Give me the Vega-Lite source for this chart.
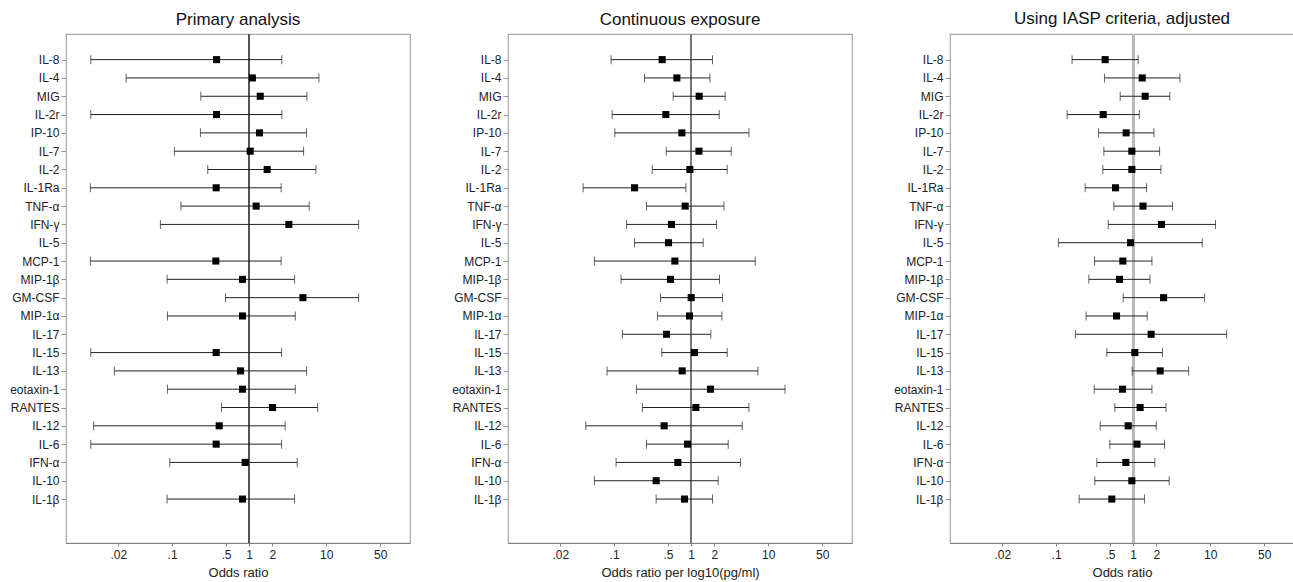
{
  "$schema": "https://vega.github.io/schema/vega-lite/v6.json",
  "padding": {"left": 9, "top": 9, "right": 0, "bottom": 0},
  "background": "white",
  "bounds": "flush",
  "spacing": 98,
  "config": {
    "font": "Liberation Sans",
    "view": {"stroke": "#a6a6a6", "strokeWidth": 1.2},
    "title": {"fontSize": 17, "fontWeight": "normal", "color": "#111", "offset": 5},
    "axis": {"labelFont": "Liberation Sans", "titleFont": "Liberation Sans", "labelColor": "#222", "titleColor": "#222", "grid": false}
  },
  "datasets": {
    "primary": [
      {"cytokine": "IL-8", "lo": 0.0088, "or": 0.377, "hi": 2.65},
      {"cytokine": "IL-4", "lo": 0.0253, "or": 1.10, "hi": 8.03},
      {"cytokine": "MIG", "lo": 0.236, "or": 1.39, "hi": 5.61},
      {"cytokine": "IL-2r", "lo": 0.0088, "or": 0.377, "hi": 2.65},
      {"cytokine": "IP-10", "lo": 0.233, "or": 1.36, "hi": 5.55},
      {"cytokine": "IL-7", "lo": 0.107, "or": 1.03, "hi": 5.08},
      {"cytokine": "IL-2", "lo": 0.290, "or": 1.71, "hi": 7.34},
      {"cytokine": "IL-1Ra", "lo": 0.0087, "or": 0.373, "hi": 2.60},
      {"cytokine": "TNF-α", "lo": 0.130, "or": 1.23, "hi": 6.01},
      {"cytokine": "IFN-γ", "lo": 0.0705, "or": 3.27, "hi": 26.3},
      {"cytokine": "MCP-1", "lo": 0.0087, "or": 0.369, "hi": 2.60},
      {"cytokine": "MIP-1β", "lo": 0.0861, "or": 0.819, "hi": 3.88},
      {"cytokine": "GM-CSF", "lo": 0.493, "or": 4.98, "hi": 26.3},
      {"cytokine": "MIP-1α", "lo": 0.087, "or": 0.819, "hi": 3.96},
      {"cytokine": "IL-15", "lo": 0.0088, "or": 0.373, "hi": 2.63},
      {"cytokine": "IL-13", "lo": 0.0178, "or": 0.772, "hi": 5.55},
      {"cytokine": "eotaxin-1", "lo": 0.087, "or": 0.819, "hi": 3.96},
      {"cytokine": "RANTES", "lo": 0.437, "or": 2.01, "hi": 7.72},
      {"cytokine": "IL-12", "lo": 0.0096, "or": 0.408, "hi": 2.93},
      {"cytokine": "IL-6", "lo": 0.0088, "or": 0.373, "hi": 2.63},
      {"cytokine": "IFN-α", "lo": 0.0933, "or": 0.887, "hi": 4.20},
      {"cytokine": "IL-1β", "lo": 0.0861, "or": 0.819, "hi": 3.88}
    ],
    "continuous": [
      {"cytokine": "IL-8", "lo": 0.0914, "or": 0.420, "hi": 1.89},
      {"cytokine": "IL-4", "lo": 0.248, "or": 0.652, "hi": 1.75},
      {"cytokine": "MIG", "lo": 0.584, "or": 1.27, "hi": 2.76},
      {"cytokine": "IL-2r", "lo": 0.0942, "or": 0.469, "hi": 2.31},
      {"cytokine": "IP-10", "lo": 0.102, "or": 0.757, "hi": 5.61},
      {"cytokine": "IL-7", "lo": 0.474, "or": 1.26, "hi": 3.31},
      {"cytokine": "IL-2", "lo": 0.312, "or": 0.961, "hi": 2.93},
      {"cytokine": "IL-1Ra", "lo": 0.0396, "or": 0.184, "hi": 0.853},
      {"cytokine": "TNF-α", "lo": 0.263, "or": 0.836, "hi": 2.66},
      {"cytokine": "IFN-γ", "lo": 0.145, "or": 0.555, "hi": 2.13},
      {"cytokine": "IL-5", "lo": 0.184, "or": 0.508, "hi": 1.43},
      {"cytokine": "MCP-1", "lo": 0.0555, "or": 0.614, "hi": 6.78},
      {"cytokine": "MIP-1β", "lo": 0.123, "or": 0.539, "hi": 2.33},
      {"cytokine": "GM-CSF", "lo": 0.400, "or": 1.0, "hi": 2.55},
      {"cytokine": "MIP-1α", "lo": 0.365, "or": 0.951, "hi": 2.50},
      {"cytokine": "IL-17", "lo": 0.128, "or": 0.478, "hi": 1.80},
      {"cytokine": "IL-15", "lo": 0.416, "or": 1.10, "hi": 2.93},
      {"cytokine": "IL-13", "lo": 0.0811, "or": 0.764, "hi": 7.34},
      {"cytokine": "eotaxin-1", "lo": 0.195, "or": 1.78, "hi": 16.5},
      {"cytokine": "RANTES", "lo": 0.233, "or": 1.15, "hi": 5.61},
      {"cytokine": "IL-12", "lo": 0.0429, "or": 0.446, "hi": 4.60},
      {"cytokine": "IL-6", "lo": 0.263, "or": 0.896, "hi": 3.02},
      {"cytokine": "IFN-α", "lo": 0.106, "or": 0.671, "hi": 4.37},
      {"cytokine": "IL-10", "lo": 0.0555, "or": 0.351, "hi": 2.24},
      {"cytokine": "IL-1β", "lo": 0.351, "or": 0.819, "hi": 1.89}
    ],
    "iasp": [
      {"cytokine": "IL-8", "lo": 0.161, "or": 0.433, "hi": 1.16},
      {"cytokine": "IL-4", "lo": 0.424, "or": 1.31, "hi": 4.04},
      {"cytokine": "MIG", "lo": 0.678, "or": 1.43, "hi": 2.99},
      {"cytokine": "IL-2r", "lo": 0.139, "or": 0.408, "hi": 1.20},
      {"cytokine": "IP-10", "lo": 0.355, "or": 0.811, "hi": 1.86},
      {"cytokine": "IL-7", "lo": 0.416, "or": 0.961, "hi": 2.20},
      {"cytokine": "IL-2", "lo": 0.404, "or": 0.961, "hi": 2.29},
      {"cytokine": "IL-1Ra", "lo": 0.238, "or": 0.590, "hi": 1.49},
      {"cytokine": "TNF-α", "lo": 0.561, "or": 1.34, "hi": 3.24},
      {"cytokine": "IFN-γ", "lo": 0.474, "or": 2.33, "hi": 11.7},
      {"cytokine": "IL-5", "lo": 0.107, "or": 0.923, "hi": 7.87},
      {"cytokine": "MCP-1", "lo": 0.315, "or": 0.734, "hi": 1.75},
      {"cytokine": "MIP-1β", "lo": 0.266, "or": 0.665, "hi": 1.65},
      {"cytokine": "GM-CSF", "lo": 0.741, "or": 2.48, "hi": 8.44},
      {"cytokine": "MIP-1α", "lo": 0.245, "or": 0.608, "hi": 1.52},
      {"cytokine": "IL-17", "lo": 0.178, "or": 1.71, "hi": 16.3},
      {"cytokine": "IL-15", "lo": 0.455, "or": 1.05, "hi": 2.40},
      {"cytokine": "IL-13", "lo": 0.970, "or": 2.24, "hi": 5.23},
      {"cytokine": "eotaxin-1", "lo": 0.312, "or": 0.727, "hi": 1.75},
      {"cytokine": "RANTES", "lo": 0.578, "or": 1.23, "hi": 2.66},
      {"cytokine": "IL-12", "lo": 0.373, "or": 0.861, "hi": 1.99},
      {"cytokine": "IL-6", "lo": 0.497, "or": 1.12, "hi": 2.55},
      {"cytokine": "IFN-α", "lo": 0.338, "or": 0.803, "hi": 1.91},
      {"cytokine": "IL-10", "lo": 0.318, "or": 0.961, "hi": 2.93},
      {"cytokine": "IL-1β", "lo": 0.199, "or": 0.528, "hi": 1.40}
    ]
  },
  "resolve": {"scale": {"x": "independent", "y": "independent"}},
  "hconcat": [
    {
      "title": "Primary analysis",
      "width": 344, "height": 509,
      "data": {"name": "primary"},
      "encoding": {
        "y": {"field": "cytokine", "type": "nominal", "title": null,
          "scale": {"type": "point", "padding": 0.4, "domain": [" ", "IL-8", "IL-4", "MIG", "IL-2r", "IP-10", "IL-7", "IL-2", "IL-1Ra", "TNF-α", "IFN-γ", "IL-5", "MCP-1", "MIP-1β", "GM-CSF", "MIP-1α", "IL-17", "IL-15", "IL-13", "eotaxin-1", "RANTES", "IL-12", "IL-6", "IFN-α", "IL-10", "IL-1β", "  ", "   "]},
          "axis": {"values": ["IL-8", "IL-4", "MIG", "IL-2r", "IP-10", "IL-7", "IL-2", "IL-1Ra", "TNF-α", "IFN-γ", "IL-5", "MCP-1", "MIP-1β", "GM-CSF", "MIP-1α", "IL-17", "IL-15", "IL-13", "eotaxin-1", "RANTES", "IL-12", "IL-6", "IFN-α", "IL-10", "IL-1β"], "domain": false, "tickSize": 5, "tickColor": "#999", "labelPadding": 2, "labelFontSize": 12}}
      },
      "layer": [
        {"mark": {"type": "rule", "color": "#555", "strokeWidth": 1}, "encoding": {"x": {"datum": 1, "type": "quantitative", "scale": {"type": "log", "domain": [0.0042, 122], "nice": false}}, "y": null}},
        {"mark": {"type": "rule", "color": "#222", "strokeWidth": 1}, "encoding": {"x": {"field": "lo", "type": "quantitative", "scale": {"type": "log", "domain": [0.0042, 122], "nice": false}, "title": "Odds ratio", "axis": {"values": [0.02, 0.1, 0.5, 1, 2, 10, 50], "labelExpr": "replace(format(datum.value, '~g'), /^0\\./, '.')", "tickSize": 3, "tickColor": "#888", "domainColor": "#808080", "labelPadding": 3, "labelFontSize": 12, "titleFontSize": 13, "titleFontWeight": "normal", "titlePadding": 6}}, "x2": {"field": "hi"}}},
        {"mark": {"type": "tick", "color": "#222", "thickness": 1, "size": 9, "orient": "vertical"}, "encoding": {"x": {"field": "lo", "type": "quantitative"}}},
        {"mark": {"type": "tick", "color": "#222", "thickness": 1, "size": 9, "orient": "vertical"}, "encoding": {"x": {"field": "hi", "type": "quantitative"}}},
        {"mark": {"type": "square", "color": "black", "filled": true, "opacity": 1, "size": 50}, "encoding": {"x": {"field": "or", "type": "quantitative"}}}
      ]
    },
    {
      "title": "Continuous exposure",
      "width": 344, "height": 509,
      "data": {"name": "continuous"},
      "encoding": {
        "y": {"field": "cytokine", "type": "nominal", "title": null,
          "scale": {"type": "point", "padding": 0.4, "domain": [" ", "IL-8", "IL-4", "MIG", "IL-2r", "IP-10", "IL-7", "IL-2", "IL-1Ra", "TNF-α", "IFN-γ", "IL-5", "MCP-1", "MIP-1β", "GM-CSF", "MIP-1α", "IL-17", "IL-15", "IL-13", "eotaxin-1", "RANTES", "IL-12", "IL-6", "IFN-α", "IL-10", "IL-1β", "  ", "   "]},
          "axis": {"values": ["IL-8", "IL-4", "MIG", "IL-2r", "IP-10", "IL-7", "IL-2", "IL-1Ra", "TNF-α", "IFN-γ", "IL-5", "MCP-1", "MIP-1β", "GM-CSF", "MIP-1α", "IL-17", "IL-15", "IL-13", "eotaxin-1", "RANTES", "IL-12", "IL-6", "IFN-α", "IL-10", "IL-1β"], "domain": false, "tickSize": 5, "tickColor": "#999", "labelPadding": 2, "labelFontSize": 12}}
      },
      "layer": [
        {"mark": {"type": "rule", "color": "#777", "strokeWidth": 1}, "encoding": {"x": {"datum": 1, "type": "quantitative", "scale": {"type": "log", "domain": [0.0042, 122], "nice": false}}, "y": null}},
        {"mark": {"type": "rule", "color": "#222", "strokeWidth": 1}, "encoding": {"x": {"field": "lo", "type": "quantitative", "scale": {"type": "log", "domain": [0.0042, 122], "nice": false}, "title": "Odds ratio per log10(pg/ml)", "axis": {"values": [0.02, 0.1, 0.5, 1, 2, 10, 50], "labelExpr": "replace(format(datum.value, '~g'), /^0\\./, '.')", "tickSize": 3, "tickColor": "#888", "domainColor": "#808080", "labelPadding": 3, "labelFontSize": 12, "titleFontSize": 13, "titleFontWeight": "normal", "titlePadding": 6}}, "x2": {"field": "hi"}}},
        {"mark": {"type": "tick", "color": "#222", "thickness": 1, "size": 9, "orient": "vertical"}, "encoding": {"x": {"field": "lo", "type": "quantitative"}}},
        {"mark": {"type": "tick", "color": "#222", "thickness": 1, "size": 9, "orient": "vertical"}, "encoding": {"x": {"field": "hi", "type": "quantitative"}}},
        {"mark": {"type": "square", "color": "black", "filled": true, "opacity": 1, "size": 50}, "encoding": {"x": {"field": "or", "type": "quantitative"}}}
      ]
    },
    {
      "title": "Using IASP criteria, adjusted",
      "width": 344, "height": 509,
      "data": {"name": "iasp"},
      "encoding": {
        "y": {"field": "cytokine", "type": "nominal", "title": null,
          "scale": {"type": "point", "padding": 0.4, "domain": [" ", "IL-8", "IL-4", "MIG", "IL-2r", "IP-10", "IL-7", "IL-2", "IL-1Ra", "TNF-α", "IFN-γ", "IL-5", "MCP-1", "MIP-1β", "GM-CSF", "MIP-1α", "IL-17", "IL-15", "IL-13", "eotaxin-1", "RANTES", "IL-12", "IL-6", "IFN-α", "IL-10", "IL-1β", "  ", "   "]},
          "axis": {"values": ["IL-8", "IL-4", "MIG", "IL-2r", "IP-10", "IL-7", "IL-2", "IL-1Ra", "TNF-α", "IFN-γ", "IL-5", "MCP-1", "MIP-1β", "GM-CSF", "MIP-1α", "IL-17", "IL-15", "IL-13", "eotaxin-1", "RANTES", "IL-12", "IL-6", "IFN-α", "IL-10", "IL-1β"], "domain": false, "tickSize": 5, "tickColor": "#999", "labelPadding": 2, "labelFontSize": 12}}
      },
      "layer": [
        {"mark": {"type": "rule", "color": "#b8b8b8", "strokeWidth": 2}, "encoding": {"x": {"datum": 1, "type": "quantitative", "scale": {"type": "log", "domain": [0.0042, 122], "nice": false}}, "y": null}},
        {"mark": {"type": "rule", "color": "#222", "strokeWidth": 1}, "encoding": {"x": {"field": "lo", "type": "quantitative", "scale": {"type": "log", "domain": [0.0042, 122], "nice": false}, "title": "Odds ratio", "axis": {"values": [0.02, 0.1, 0.5, 1, 2, 10, 50], "labelExpr": "replace(format(datum.value, '~g'), /^0\\./, '.')", "tickSize": 3, "tickColor": "#888", "domainColor": "#808080", "labelPadding": 3, "labelFontSize": 12, "titleFontSize": 13, "titleFontWeight": "normal", "titlePadding": 6}}, "x2": {"field": "hi"}}},
        {"mark": {"type": "tick", "color": "#222", "thickness": 1, "size": 9, "orient": "vertical"}, "encoding": {"x": {"field": "lo", "type": "quantitative"}}},
        {"mark": {"type": "tick", "color": "#222", "thickness": 1, "size": 9, "orient": "vertical"}, "encoding": {"x": {"field": "hi", "type": "quantitative"}}},
        {"mark": {"type": "square", "color": "black", "filled": true, "opacity": 1, "size": 50}, "encoding": {"x": {"field": "or", "type": "quantitative"}}}
      ]
    }
  ]
}
